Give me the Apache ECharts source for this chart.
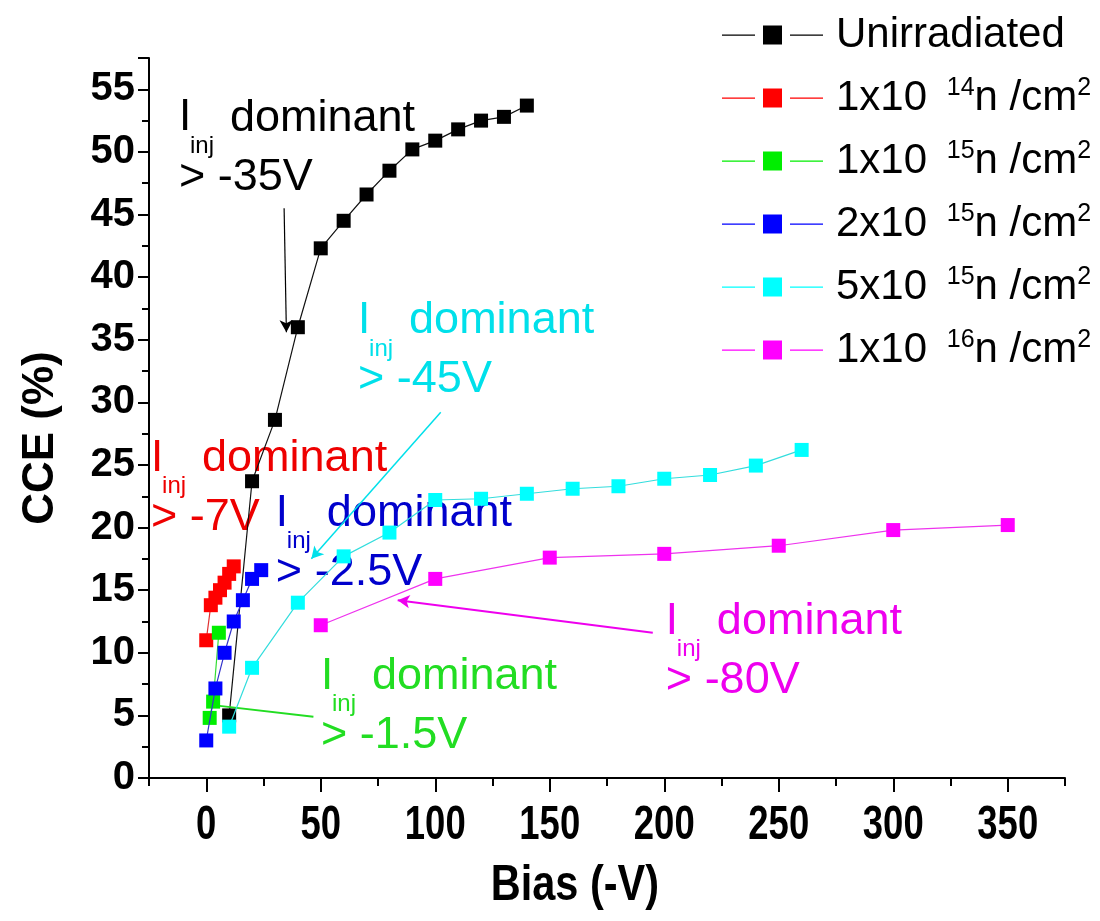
<!DOCTYPE html>
<html>
<head>
<meta charset="utf-8">
<script src="https://cdn.jsdelivr.net/npm/echarts@6/dist/echarts.min.js"></script>
<style>
  html, body { margin: 0; padding: 0; background: #fff; }
  #chart { width: 1100px; height: 921px; }
</style>
</head>
<body>
<div id="chart"></div>
<script>
// Charge collection efficiency versus reverse bias for several neutron fluences
const seriesKeys = ['Unirradiated', '1e14', '1e15', '2e15', '5e15', '1e16'];
const fluenceMantissa = ['', '1', '1', '2', '5', '1'];
const fluenceExponent = ['', '14', '15', '15', '15', '16'];
const seriesColors = ['#000000', '#ff0000', '#00ee00', '#0000ff', '#00ffff', '#ff00ff'];
const lineColors = ['#111111', '#e03030', '#33dd33', '#3333cc', '#33dddd', '#ee33ee'];

const biasUnirr = [10, 20, 30, 40, 50, 60, 70, 80, 90, 100, 110, 120, 130, 140];
const cceUnirr = [5.0, 23.7, 28.6, 36.0, 42.3, 44.5, 46.6, 48.5, 50.2, 50.9, 51.8, 52.5, 52.8, 53.7];

const bias1e14 = [0, 2, 4, 6, 8, 10, 12];
const cce1e14 = [11.0, 13.8, 14.4, 15.0, 15.6, 16.3, 16.9];

const bias1e15 = [1.5, 3, 5.5];
const cce1e15 = [4.8, 6.1, 11.6];

const bias2e15 = [0, 4, 8, 12, 16, 20, 24];
const cce2e15 = [3.0, 7.15, 10.0, 12.5, 14.2, 15.9, 16.6];

const bias5e15 = [10, 20, 40, 60, 80, 100, 120, 140, 160, 180, 200, 220, 240, 260];
const cce5e15 = [4.1, 8.8, 14.0, 17.7, 19.6, 22.2, 22.3, 22.7, 23.1, 23.3, 23.9, 24.2, 24.95, 26.2];

const bias1e16 = [50, 100, 150, 200, 250, 300, 350];
const cce1e16 = [12.2, 15.9, 17.6, 17.9, 18.55, 19.8, 20.2];

const allBias = [biasUnirr, bias1e14, bias1e15, bias2e15, bias5e15, bias1e16];
const allCce = [cceUnirr, cce1e14, cce1e15, cce2e15, cce5e15, cce1e16];

// Axis ticks: labelled major ticks and unlabelled minor ticks on the bias axis
const biasMajorTicks = [0, 50, 100, 150, 200, 250, 300, 350];
const biasMinorTicks = [-25, 25, 75, 125, 175, 225, 275, 325, 375];

// Annotation text: threshold voltage where injection current dominates
const noteThresholds = ['> -35V', '> -7V', '> -1.5V', '> -2.5V', '> -45V', '> -80V'];
const noteColors = ['#000000', '#ee0000', '#22dd22', '#0000cc', '#00e0ea', '#ee00ee'];
// text anchor (start of "I", middle of first line), in data units
const noteAnchors = [[-11.9, 52.7], [-24.1, 25.5], [50.1, 8.1], [30.4, 21.1], [66.3, 36.5], [200.7, 12.5]];
// pointer lines [from, to] in data units; null where no pointer is drawn
const notePointers = [
  [[34, 45.5], [35, 35.6]],
  null,
  [[46.8, 4.9], [3.9, 5.8]],
  null,
  [[102.4, 29.2], [45.9, 17.5]],
  [[195, 11.6], [83.6, 14.2]]
];
const pointerHasHead = [true, false, false, false, true, true];
const pointerWidths = [1.2, 1, 2, 1, 1.5, 2];

const FONT = '"Liberation Sans", Arial, Helvetica, sans-serif';

const series = seriesKeys.map((key, i) => {
  const s = {
    name: key,
    type: 'line',
    xAxisIndex: 0,
    data: allBias[i].map((b, j) => [b, allCce[i][j]]),
    symbol: 'rect',
    symbolSize: 14,
    itemStyle: { color: seriesColors[i], borderWidth: 0 },
    lineStyle: { color: lineColors[i], width: 1.2 },
    z: 3 + i
  };
  const p = notePointers[i];
  if (p) {
    s.markLine = {
      silent: true,
      symbol: ['none', pointerHasHead[i] ? 'arrow' : 'none'],
      symbolSize: [10, 12],
      label: { show: false },
      lineStyle: { type: 'solid', color: noteColors[i], width: pointerWidths[i] },
      data: [[{ coord: p[0] }, { coord: p[1] }]],
      animation: false
    };
  }
  return s;
});

const chart = echarts.init(document.getElementById('chart'), null, { renderer: 'canvas' });

const option = {
  animation: false,
  backgroundColor: '#ffffff',
  grid: { left: 149, right: 35, top: 58, bottom: 143, containLabel: false },
  legend: {
    orient: 'vertical',
    left: 717,
    top: 9,
    itemWidth: 101,
    itemHeight: 19,
    itemGap: 20,
    icon: 'path://M0,9h33v1.2h-33z M41,0h19v19h-19z M68,9h33v1.2h-33z',
    itemStyle: { borderWidth: 0 },
    selectedMode: false,
    formatter: name => {
      const i = seriesKeys.indexOf(name);
      if (i === 0) return '{t|Unirradiated}';
      return '{t|' + fluenceMantissa[i] + 'x10 }{e|' + fluenceExponent[i] + '}{t|n /cm}{q|2}';
    },
    textStyle: {
      color: '#000',
      padding: [0, 0, 0, 8],
      rich: {
        t: { fontFamily: FONT, fontSize: 42, lineHeight: 44, color: '#000' },
        e: { fontFamily: FONT, fontSize: 25, lineHeight: 24, verticalAlign: 'top', padding: [0, 0, 0, 8], color: '#000' },
        q: { fontFamily: FONT, fontSize: 25, lineHeight: 24, verticalAlign: 'top', color: '#000' }
      }
    }
  },
  xAxis: [
    {
      type: 'value',
      position: 'bottom',
      min: -25,
      max: 375,
      axisLine: { show: true, onZero: false, lineStyle: { color: '#000', width: 2 } },
      axisTick: { show: true, inside: false, length: 14, customValues: biasMajorTicks, lineStyle: { color: '#000', width: 2 } },
      axisLabel: { show: false },
      splitLine: { show: false }
    },
    {
      type: 'value',
      position: 'bottom',
      min: -25,
      max: 375,
      axisLine: { show: false, onZero: false },
      axisTick: { show: true, inside: false, length: 8, customValues: biasMinorTicks, lineStyle: { color: '#000', width: 2 } },
      axisLabel: { show: false },
      splitLine: { show: false }
    }
  ],
  yAxis: {
    type: 'value',
    min: 0,
    max: 57.5,
    interval: 5,
    name: 'CCE (%)',
    nameLocation: 'middle',
    nameGap: 86,
    nameRotate: 90,
    nameTextStyle: { fontFamily: FONT, fontWeight: 'bold', fontSize: 44, color: '#000', padding: [0, 40, 0, 0] },
    axisLine: { show: true, onZero: false, lineStyle: { color: '#000', width: 2 } },
    axisTick: { show: true, inside: false, length: 11, lineStyle: { color: '#000', width: 2 } },
    minorTick: { show: true, splitNumber: 2, length: 7, lineStyle: { color: '#000', width: 2 } },
    axisLabel: {
      margin: 14,
      fontFamily: FONT, fontWeight: 'bold', fontSize: 40, color: '#000',
      formatter: v => (v % 5 === 0) ? String(v) : ''
    },
    splitLine: { show: false },
    minorSplitLine: { show: false }
  },
  series: series
};

chart.setOption(option);

// Condensed bold tick labels and title for the bias axis, placed through the axis scale
function buildBiasAxisText() {
  const items = [];
  const axisY = chart.convertToPixel({ gridIndex: 0 }, [0, 0])[1];
  biasMajorTicks.forEach(v => {
    const px = chart.convertToPixel({ xAxisIndex: 0 }, v);
    items.push({
      type: 'text', x: px, y: axisY + 48, scaleX: 0.76, silent: true,
      style: { text: String(v), fontFamily: FONT, fontWeight: 'bold', fontSize: 48, fill: '#000', align: 'center', verticalAlign: 'middle' }
    });
  });
  const midX = chart.convertToPixel({ xAxisIndex: 0 }, 161);
  items.push({
    type: 'text', x: midX, y: axisY + 108, scaleX: 0.83, silent: true,
    style: { text: 'Bias (-V)', fontFamily: FONT, fontWeight: 'bold', fontSize: 50, fill: '#000', align: 'center', verticalAlign: 'middle' }
  });
  return items;
}

// Place the "I_inj dominant / > -xxV" notes at their data anchors
function buildNotes() {
  const items = [];
  noteAnchors.forEach((a, i) => {
    const [px, py] = chart.convertToPixel({ gridIndex: 0 }, a);
    const c = noteColors[i];
    const base = { fontFamily: FONT, fill: c, verticalAlign: 'middle', align: 'left' };
    items.push({
      type: 'group', x: px, y: py, silent: true, z: 50,
      children: [
        { type: 'text', x: 0, y: 0, style: Object.assign({}, base, { text: 'I', fontSize: 44 }) },
        { type: 'text', x: 11, y: 28, style: Object.assign({}, base, { text: 'inj', fontSize: 24 }) },
        { type: 'text', x: 51, y: 0, style: Object.assign({}, base, { text: 'dominant', fontSize: 45 }) },
        { type: 'text', x: 0, y: 59, style: Object.assign({}, base, { text: noteThresholds[i], fontSize: 45 }) }
      ]
    });
  });
  return items;
}

chart.setOption({ graphic: { elements: buildBiasAxisText().concat(buildNotes()) } });
</script>
</body>
</html>
